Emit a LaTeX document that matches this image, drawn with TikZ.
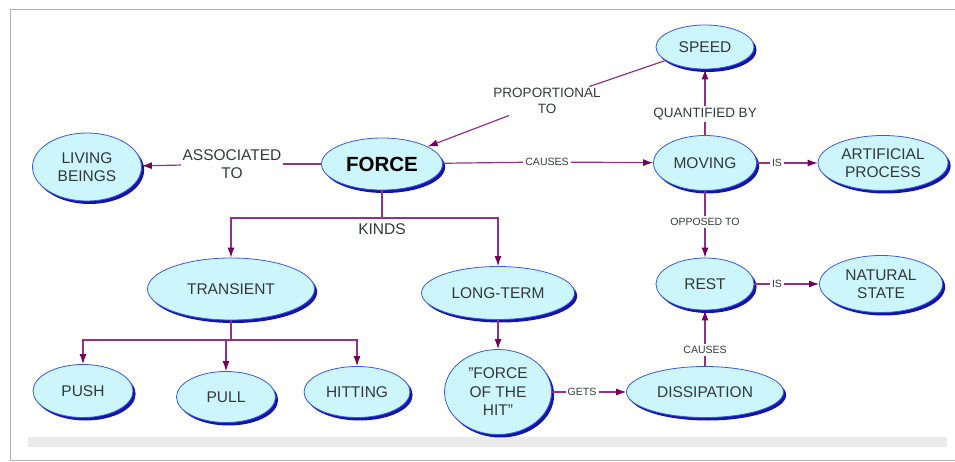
\documentclass[tikz,border=0pt]{standalone}
\usepackage{fontspec}
\setmainfont{Liberation Sans}
\usetikzlibrary{shapes.geometric, shadows, arrows.meta}

\definecolor{conceptfill}{RGB}{204,246,252}
\definecolor{conceptblue}{RGB}{60,90,220}
\definecolor{shadowblue}{RGB}{20,20,170}
\definecolor{linkpurple}{RGB}{145,50,135}
\definecolor{tippurple}{RGB}{115,0,90}
\definecolor{textgray}{RGB}{50,57,57}

\tikzset{
  concept/.style={ellipse, draw=conceptblue, fill=conceptfill, line width=0.8pt,
    inner sep=0pt, align=center, text=textgray, font=\fontsize{15.5}{18.5}\selectfont,
    drop shadow={shadow xshift=2.6pt, shadow yshift=-3pt, fill=shadowblue, opacity=1}},
  link/.style={draw=linkpurple, line width=1.2pt},
  linkto/.style={link, -{Latex[length=10pt, width=7pt, color=tippurple]}},
  biglabel/.style={font=\fontsize{15.5}{18.5}\selectfont, text=textgray, align=center, inner sep=1.5pt},
  midlabel/.style={font=\fontsize{13.5}{16}\selectfont, text=textgray, align=center, inner sep=1.5pt},
  smalllabel/.style={font=\fontsize{10.5}{12}\selectfont, text=textgray, inner sep=2pt}
}

\begin{document}
\begin{tikzpicture}[x=1pt, y=-1pt]
    \useasboundingbox (0,0) rectangle (955,462);

    % Frame
    \draw[black!30, line width=1pt] (955,10) -- (10,10) -- (10,460) -- (955,460);
    \fill[black!8] (28,437) rectangle (947,447);

    % Concepts
    \node[concept, minimum width=98pt, minimum height=44pt] (speed) at (705,47) {SPEED};
    \node[concept, minimum width=121pt, minimum height=52pt, text=black,
      font=\bfseries\fontsize{20.5}{24}\selectfont] (force) at (382,164) {FORCE};
    \node[concept, minimum width=109pt, minimum height=68pt] (living) at (87,167) {LIVING\\BEINGS};
    \node[concept, minimum width=103pt, minimum height=55pt] (moving) at (705,163) {MOVING};
    \node[concept, minimum width=130pt, minimum height=55pt] (artificial) at (883,163) {ARTIFICIAL\\PROCESS};
    \node[concept, minimum width=167pt, minimum height=62pt] (transient) at (231,289) {TRANSIENT};
    \node[concept, minimum width=153pt, minimum height=53pt] (longterm) at (498,293) {LONG-TERM};
    \node[concept, minimum width=98pt, minimum height=52pt] (rest) at (705,284) {REST};
    \node[concept, minimum width=123pt, minimum height=57pt] (natural) at (881,284) {NATURAL\\STATE};
    \node[concept, minimum width=100pt, minimum height=53pt] (push) at (83,391) {PUSH};
    \node[concept, minimum width=99pt, minimum height=51pt] (pull) at (226,397) {PULL};
    \node[concept, minimum width=106pt, minimum height=51pt] (hitting) at (357,392) {HITTING};
    \node[concept, minimum width=107pt, minimum height=85pt] (hit) at (498,392) {"FORCE\\OF THE\\HIT"};
    \node[concept, minimum width=157pt, minimum height=51pt] (dissipation) at (705,392) {DISSIPATION};

    % Links
    \node[biglabel] (assoc) at (232,164) {ASSOCIATED\\TO};
    \draw[link] (force) -- (assoc);
    \draw[linkto] (assoc) -- (living);

    \node[midlabel] (prop) at (547,101) {PROPORTIONAL\\TO};
    \draw[link] (speed) -- (prop);
    \draw[linkto] (prop) -- (force);

    \node[smalllabel] (causes) at (547,162) {CAUSES};
    \draw[link] (force) -- (causes);
    \draw[linkto] (causes) -- (moving);

    \node[midlabel] (quantified) at (705,114) {QUANTIFIED BY};
    \draw[link] (moving) -- (quantified);
    \draw[linkto] (quantified) -- (speed);

    \node[smalllabel] (isartificial) at (777,163) {IS};
    \draw[link] (moving) -- (isartificial);
    \draw[linkto] (isartificial) -- (artificial);

    \node[smalllabel] (opposed) at (705,222) {OPPOSED TO};
    \draw[link] (moving) -- (opposed);
    \draw[linkto] (opposed) -- (rest);

    \node[smalllabel] (isnatural) at (777,284) {IS};
    \draw[link] (rest) -- (isnatural);
    \draw[linkto] (isnatural) -- (natural);

    \node[smalllabel] (causesrest) at (705,350) {CAUSES};
    \draw[link] (dissipation) -- (causesrest);
    \draw[linkto] (causesrest) -- (rest);

    \node[smalllabel] (gets) at (582,392) {GETS};
    \draw[link] (hit) -- (gets);
    \draw[linkto] (gets) -- (dissipation);

    \draw[linkto] (longterm) -- (hit);

    % Kinds of force
    \coordinate (kindsplit) at (382,218);
    \draw[link] (force) -- (kindsplit);
    \node[biglabel] (kinds) at (382,229) {KINDS};
    \draw[linkto] (kindsplit) -| (transient);
    \draw[linkto] (kindsplit) -| (longterm);

    % Kinds of transient force
    \coordinate (transientsplit) at (231,340);
    \draw[link] (transient) -- (transientsplit);
    \draw[linkto] (transientsplit) -| (push);
    \draw[linkto] (transientsplit) -| (pull);
    \draw[linkto] (transientsplit) -| (hitting);
\end{tikzpicture}
\end{document}
